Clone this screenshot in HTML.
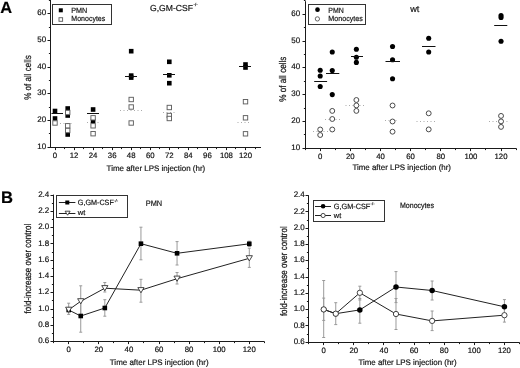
<!DOCTYPE html>
<html><head><meta charset="utf-8"><style>
html,body{margin:0;padding:0;background:#fff;width:520px;height:368px;overflow:hidden}
svg{filter:blur(0.3px);display:block;font-family:"Liberation Sans",sans-serif} text{text-rendering:geometricPrecision;stroke:#111;stroke-width:0.18px}
</style></head><body>
<svg width="520" height="368" viewBox="0 0 520 368" font-family="Liberation Sans, sans-serif">
<rect width="520" height="368" fill="#fff"/>
<text x="0.20" y="13.20" font-size="16.4" text-anchor="start" fill="#000" font-weight="bold">A</text>
<text x="1.00" y="202.80" font-size="16.6" text-anchor="start" fill="#000" font-weight="bold">B</text>
<line x1="50.50" y1="0.00" x2="50.50" y2="147.80" stroke="#1a1a1a" stroke-width="1.0"/>
<line x1="47.50" y1="147.50" x2="50.50" y2="147.50" stroke="#1a1a1a" stroke-width="1"/>
<line x1="47.50" y1="120.50" x2="50.50" y2="120.50" stroke="#1a1a1a" stroke-width="1"/>
<line x1="47.50" y1="93.50" x2="50.50" y2="93.50" stroke="#1a1a1a" stroke-width="1"/>
<line x1="47.50" y1="67.50" x2="50.50" y2="67.50" stroke="#1a1a1a" stroke-width="1"/>
<line x1="47.50" y1="40.50" x2="50.50" y2="40.50" stroke="#1a1a1a" stroke-width="1"/>
<line x1="47.50" y1="13.50" x2="50.50" y2="13.50" stroke="#1a1a1a" stroke-width="1"/>
<line x1="48.90" y1="133.50" x2="50.50" y2="133.50" stroke="#1a1a1a" stroke-width="1"/>
<line x1="48.90" y1="107.50" x2="50.50" y2="107.50" stroke="#1a1a1a" stroke-width="1"/>
<line x1="48.90" y1="80.50" x2="50.50" y2="80.50" stroke="#1a1a1a" stroke-width="1"/>
<line x1="48.90" y1="53.50" x2="50.50" y2="53.50" stroke="#1a1a1a" stroke-width="1"/>
<line x1="48.90" y1="27.50" x2="50.50" y2="27.50" stroke="#1a1a1a" stroke-width="1"/>
<line x1="48.90" y1="0.50" x2="50.50" y2="0.50" stroke="#1a1a1a" stroke-width="1"/>
<text x="46.10" y="148.90" font-size="8" text-anchor="end" fill="#111" font-weight="normal">10</text>
<text x="46.10" y="122.18" font-size="8" text-anchor="end" fill="#111" font-weight="normal">20</text>
<text x="46.10" y="95.46" font-size="8" text-anchor="end" fill="#111" font-weight="normal">30</text>
<text x="46.10" y="68.74" font-size="8" text-anchor="end" fill="#111" font-weight="normal">40</text>
<text x="46.10" y="42.02" font-size="8" text-anchor="end" fill="#111" font-weight="normal">50</text>
<text x="46.10" y="15.30" font-size="8" text-anchor="end" fill="#111" font-weight="normal">60</text>
<line x1="50.00" y1="147.50" x2="261.00" y2="147.50" stroke="#1a1a1a" stroke-width="1.0"/>
<line x1="55.50" y1="147.50" x2="55.50" y2="150.10" stroke="#1a1a1a" stroke-width="1"/>
<line x1="74.50" y1="147.50" x2="74.50" y2="150.10" stroke="#1a1a1a" stroke-width="1"/>
<line x1="93.50" y1="147.50" x2="93.50" y2="150.10" stroke="#1a1a1a" stroke-width="1"/>
<line x1="112.50" y1="147.50" x2="112.50" y2="150.10" stroke="#1a1a1a" stroke-width="1"/>
<line x1="131.50" y1="147.50" x2="131.50" y2="150.10" stroke="#1a1a1a" stroke-width="1"/>
<line x1="150.50" y1="147.50" x2="150.50" y2="150.10" stroke="#1a1a1a" stroke-width="1"/>
<line x1="169.50" y1="147.50" x2="169.50" y2="150.10" stroke="#1a1a1a" stroke-width="1"/>
<line x1="188.50" y1="147.50" x2="188.50" y2="150.10" stroke="#1a1a1a" stroke-width="1"/>
<line x1="207.50" y1="147.50" x2="207.50" y2="150.10" stroke="#1a1a1a" stroke-width="1"/>
<line x1="226.50" y1="147.50" x2="226.50" y2="150.10" stroke="#1a1a1a" stroke-width="1"/>
<line x1="245.50" y1="147.50" x2="245.50" y2="150.10" stroke="#1a1a1a" stroke-width="1"/>
<line x1="64.50" y1="147.50" x2="64.50" y2="149.10" stroke="#1a1a1a" stroke-width="1"/>
<line x1="83.50" y1="147.50" x2="83.50" y2="149.10" stroke="#1a1a1a" stroke-width="1"/>
<line x1="102.50" y1="147.50" x2="102.50" y2="149.10" stroke="#1a1a1a" stroke-width="1"/>
<line x1="121.50" y1="147.50" x2="121.50" y2="149.10" stroke="#1a1a1a" stroke-width="1"/>
<line x1="140.50" y1="147.50" x2="140.50" y2="149.10" stroke="#1a1a1a" stroke-width="1"/>
<line x1="159.50" y1="147.50" x2="159.50" y2="149.10" stroke="#1a1a1a" stroke-width="1"/>
<line x1="178.50" y1="147.50" x2="178.50" y2="149.10" stroke="#1a1a1a" stroke-width="1"/>
<line x1="197.50" y1="147.50" x2="197.50" y2="149.10" stroke="#1a1a1a" stroke-width="1"/>
<line x1="216.50" y1="147.50" x2="216.50" y2="149.10" stroke="#1a1a1a" stroke-width="1"/>
<line x1="235.50" y1="147.50" x2="235.50" y2="149.10" stroke="#1a1a1a" stroke-width="1"/>
<line x1="255.50" y1="147.50" x2="255.50" y2="149.10" stroke="#1a1a1a" stroke-width="1"/>
<text x="55.00" y="157.70" font-size="7.8" text-anchor="middle" fill="#111" font-weight="normal">0</text>
<text x="74.05" y="157.70" font-size="7.8" text-anchor="middle" fill="#111" font-weight="normal">12</text>
<text x="93.10" y="157.70" font-size="7.8" text-anchor="middle" fill="#111" font-weight="normal">24</text>
<text x="112.15" y="157.70" font-size="7.8" text-anchor="middle" fill="#111" font-weight="normal">36</text>
<text x="131.20" y="157.70" font-size="7.8" text-anchor="middle" fill="#111" font-weight="normal">48</text>
<text x="150.25" y="157.70" font-size="7.8" text-anchor="middle" fill="#111" font-weight="normal">60</text>
<text x="169.30" y="157.70" font-size="7.8" text-anchor="middle" fill="#111" font-weight="normal">72</text>
<text x="188.35" y="157.70" font-size="7.8" text-anchor="middle" fill="#111" font-weight="normal">84</text>
<text x="207.40" y="157.70" font-size="7.8" text-anchor="middle" fill="#111" font-weight="normal">96</text>
<text x="226.45" y="157.70" font-size="7.8" text-anchor="middle" fill="#111" font-weight="normal">108</text>
<text x="245.50" y="157.70" font-size="7.8" text-anchor="middle" fill="#111" font-weight="normal">120</text>
<text x="106.60" y="171.30" font-size="8" text-anchor="start" fill="#111" font-weight="normal" textLength="98.6" lengthAdjust="spacingAndGlyphs">Time after LPS injection (hr)</text>
<text transform="translate(30.90,77.50) rotate(-90) scale(0.1,0.1200)" x="0" y="0" font-size="80" text-anchor="middle" fill="#111" style="stroke-width:1.8px">% of all cells</text>
<rect x="52.5" y="4.5" width="59" height="20" fill="#fff" stroke="#333" stroke-width="1"/>
<rect x="58.80" y="8.30" width="4.0" height="4.0" fill="#000"/>
<rect x="59.00" y="17.70" width="3.6" height="3.6" fill="#fff" stroke="#606060" stroke-width="0.95"/>
<text x="71.30" y="12.80" font-size="7.6" text-anchor="start" fill="#111" font-weight="normal" textLength="16" lengthAdjust="spacingAndGlyphs">PMN</text>
<text x="71.30" y="21.30" font-size="7.6" text-anchor="start" fill="#111" font-weight="normal" textLength="34" lengthAdjust="spacingAndGlyphs">Monocytes</text>
<text x="150.00" y="11.40" font-size="8.7" text-anchor="start" fill="#111" font-weight="normal" textLength="43" lengthAdjust="spacingAndGlyphs">G,GM-CSF</text>
<text x="193.60" y="5.90" font-size="4.3" text-anchor="start" fill="#111" font-weight="normal">-/-</text>
<line x1="60.00" y1="123.50" x2="72.00" y2="123.50" stroke="#ababab" stroke-width="1" stroke-dasharray="1,2.5"/>
<line x1="87.00" y1="122.50" x2="99.00" y2="122.50" stroke="#ababab" stroke-width="1" stroke-dasharray="1,2.5"/>
<line x1="120.00" y1="110.50" x2="143.50" y2="110.50" stroke="#ababab" stroke-width="1" stroke-dasharray="1,2.5"/>
<line x1="163.00" y1="112.50" x2="175.00" y2="112.50" stroke="#ababab" stroke-width="1" stroke-dasharray="1,2.5"/>
<line x1="237.50" y1="122.50" x2="250.00" y2="122.50" stroke="#ababab" stroke-width="1" stroke-dasharray="1,2.5"/>
<rect x="52.70" y="108.70" width="4.6" height="4.6" fill="#000"/>
<rect x="52.70" y="116.20" width="4.6" height="4.6" fill="#000"/>
<line x1="51.50" y1="113.50" x2="63.00" y2="113.50" stroke="#111" stroke-width="1.0"/>
<rect x="65.40" y="106.20" width="4.6" height="4.6" fill="#000"/>
<rect x="65.40" y="113.20" width="4.6" height="4.6" fill="#000"/>
<rect x="65.40" y="132.20" width="4.6" height="4.6" fill="#000"/>
<rect x="90.80" y="107.20" width="4.6" height="4.6" fill="#000"/>
<rect x="90.80" y="118.70" width="4.6" height="4.6" fill="#000"/>
<line x1="87.00" y1="113.50" x2="99.00" y2="113.50" stroke="#111" stroke-width="1.0"/>
<rect x="128.90" y="48.90" width="4.6" height="4.6" fill="#000"/>
<rect x="128.90" y="73.30" width="4.6" height="4.6" fill="#000"/>
<rect x="128.90" y="75.30" width="4.6" height="4.6" fill="#000"/>
<line x1="125.00" y1="76.50" x2="137.00" y2="76.50" stroke="#111" stroke-width="1.0"/>
<rect x="167.00" y="59.50" width="4.6" height="4.6" fill="#000"/>
<rect x="167.00" y="73.00" width="4.6" height="4.6" fill="#000"/>
<rect x="167.00" y="80.90" width="4.6" height="4.6" fill="#000"/>
<line x1="163.00" y1="74.50" x2="175.00" y2="74.50" stroke="#111" stroke-width="1.0"/>
<rect x="243.20" y="62.20" width="4.6" height="4.6" fill="#000"/>
<rect x="243.20" y="65.20" width="4.6" height="4.6" fill="#000"/>
<line x1="239.00" y1="66.50" x2="251.00" y2="66.50" stroke="#111" stroke-width="1.0"/>
<rect x="52.80" y="120.80" width="4.4" height="4.4" fill="#fff" stroke="#606060" stroke-width="0.95"/>
<rect x="65.50" y="110.30" width="4.4" height="4.4" fill="#fff" stroke="#606060" stroke-width="0.95"/>
<rect x="65.50" y="123.60" width="4.4" height="4.4" fill="#fff" stroke="#606060" stroke-width="0.95"/>
<rect x="65.50" y="128.30" width="4.4" height="4.4" fill="#fff" stroke="#606060" stroke-width="0.95"/>
<rect x="90.90" y="115.60" width="4.4" height="4.4" fill="#fff" stroke="#606060" stroke-width="0.95"/>
<rect x="90.90" y="123.60" width="4.4" height="4.4" fill="#fff" stroke="#606060" stroke-width="0.95"/>
<rect x="90.90" y="131.50" width="4.4" height="4.4" fill="#fff" stroke="#606060" stroke-width="0.95"/>
<rect x="129.00" y="97.30" width="4.4" height="4.4" fill="#fff" stroke="#606060" stroke-width="0.95"/>
<rect x="129.00" y="104.80" width="4.4" height="4.4" fill="#fff" stroke="#606060" stroke-width="0.95"/>
<rect x="129.00" y="120.80" width="4.4" height="4.4" fill="#fff" stroke="#606060" stroke-width="0.95"/>
<rect x="167.10" y="105.30" width="4.4" height="4.4" fill="#fff" stroke="#606060" stroke-width="0.95"/>
<rect x="167.10" y="113.30" width="4.4" height="4.4" fill="#fff" stroke="#606060" stroke-width="0.95"/>
<rect x="167.10" y="116.30" width="4.4" height="4.4" fill="#fff" stroke="#606060" stroke-width="0.95"/>
<rect x="243.30" y="99.50" width="4.4" height="4.4" fill="#fff" stroke="#606060" stroke-width="0.95"/>
<rect x="243.30" y="115.60" width="4.4" height="4.4" fill="#fff" stroke="#606060" stroke-width="0.95"/>
<rect x="243.30" y="131.60" width="4.4" height="4.4" fill="#fff" stroke="#606060" stroke-width="0.95"/>
<line x1="305.50" y1="1.20" x2="305.50" y2="148.70" stroke="#1a1a1a" stroke-width="1.0"/>
<line x1="302.50" y1="148.50" x2="305.50" y2="148.50" stroke="#1a1a1a" stroke-width="1"/>
<line x1="302.50" y1="121.50" x2="305.50" y2="121.50" stroke="#1a1a1a" stroke-width="1"/>
<line x1="302.50" y1="94.50" x2="305.50" y2="94.50" stroke="#1a1a1a" stroke-width="1"/>
<line x1="302.50" y1="67.50" x2="305.50" y2="67.50" stroke="#1a1a1a" stroke-width="1"/>
<line x1="302.50" y1="41.50" x2="305.50" y2="41.50" stroke="#1a1a1a" stroke-width="1"/>
<line x1="302.50" y1="14.50" x2="305.50" y2="14.50" stroke="#1a1a1a" stroke-width="1"/>
<line x1="303.90" y1="134.50" x2="305.50" y2="134.50" stroke="#1a1a1a" stroke-width="1"/>
<line x1="303.90" y1="108.50" x2="305.50" y2="108.50" stroke="#1a1a1a" stroke-width="1"/>
<line x1="303.90" y1="81.50" x2="305.50" y2="81.50" stroke="#1a1a1a" stroke-width="1"/>
<line x1="303.90" y1="54.50" x2="305.50" y2="54.50" stroke="#1a1a1a" stroke-width="1"/>
<line x1="303.90" y1="27.50" x2="305.50" y2="27.50" stroke="#1a1a1a" stroke-width="1"/>
<line x1="303.90" y1="0.50" x2="305.50" y2="0.50" stroke="#1a1a1a" stroke-width="1"/>
<text x="300.20" y="149.80" font-size="8" text-anchor="end" fill="#111" font-weight="normal">10</text>
<text x="300.20" y="123.02" font-size="8" text-anchor="end" fill="#111" font-weight="normal">20</text>
<text x="300.20" y="96.24" font-size="8" text-anchor="end" fill="#111" font-weight="normal">30</text>
<text x="300.20" y="69.46" font-size="8" text-anchor="end" fill="#111" font-weight="normal">40</text>
<text x="300.20" y="42.68" font-size="8" text-anchor="end" fill="#111" font-weight="normal">50</text>
<text x="300.20" y="15.90" font-size="8" text-anchor="end" fill="#111" font-weight="normal">60</text>
<line x1="304.70" y1="148.50" x2="516.50" y2="148.50" stroke="#1a1a1a" stroke-width="1.0"/>
<line x1="320.50" y1="148.50" x2="320.50" y2="151.10" stroke="#1a1a1a" stroke-width="1"/>
<line x1="350.50" y1="148.50" x2="350.50" y2="151.10" stroke="#1a1a1a" stroke-width="1"/>
<line x1="380.50" y1="148.50" x2="380.50" y2="151.10" stroke="#1a1a1a" stroke-width="1"/>
<line x1="410.50" y1="148.50" x2="410.50" y2="151.10" stroke="#1a1a1a" stroke-width="1"/>
<line x1="440.50" y1="148.50" x2="440.50" y2="151.10" stroke="#1a1a1a" stroke-width="1"/>
<line x1="470.50" y1="148.50" x2="470.50" y2="151.10" stroke="#1a1a1a" stroke-width="1"/>
<line x1="501.50" y1="148.50" x2="501.50" y2="151.10" stroke="#1a1a1a" stroke-width="1"/>
<line x1="305.50" y1="148.50" x2="305.50" y2="150.10" stroke="#1a1a1a" stroke-width="1"/>
<line x1="335.50" y1="148.50" x2="335.50" y2="150.10" stroke="#1a1a1a" stroke-width="1"/>
<line x1="365.50" y1="148.50" x2="365.50" y2="150.10" stroke="#1a1a1a" stroke-width="1"/>
<line x1="395.50" y1="148.50" x2="395.50" y2="150.10" stroke="#1a1a1a" stroke-width="1"/>
<line x1="425.50" y1="148.50" x2="425.50" y2="150.10" stroke="#1a1a1a" stroke-width="1"/>
<line x1="455.50" y1="148.50" x2="455.50" y2="150.10" stroke="#1a1a1a" stroke-width="1"/>
<line x1="485.50" y1="148.50" x2="485.50" y2="150.10" stroke="#1a1a1a" stroke-width="1"/>
<line x1="516.50" y1="148.50" x2="516.50" y2="150.10" stroke="#1a1a1a" stroke-width="1"/>
<text x="320.20" y="158.60" font-size="7.8" text-anchor="middle" fill="#111" font-weight="normal">0</text>
<text x="350.34" y="158.60" font-size="7.8" text-anchor="middle" fill="#111" font-weight="normal">20</text>
<text x="380.48" y="158.60" font-size="7.8" text-anchor="middle" fill="#111" font-weight="normal">40</text>
<text x="410.62" y="158.60" font-size="7.8" text-anchor="middle" fill="#111" font-weight="normal">60</text>
<text x="440.76" y="158.60" font-size="7.8" text-anchor="middle" fill="#111" font-weight="normal">80</text>
<text x="470.90" y="158.60" font-size="7.8" text-anchor="middle" fill="#111" font-weight="normal">100</text>
<text x="501.04" y="158.60" font-size="7.8" text-anchor="middle" fill="#111" font-weight="normal">120</text>
<text x="352.40" y="169.60" font-size="8" text-anchor="start" fill="#111" font-weight="normal" textLength="98.6" lengthAdjust="spacingAndGlyphs">Time after LPS injection (hr)</text>
<text transform="translate(286.10,79.20) rotate(-90) scale(0.1,0.1200)" x="0" y="0" font-size="81.0" text-anchor="middle" fill="#111" style="stroke-width:1.8px" textLength="452.0" lengthAdjust="spacingAndGlyphs">% of all cells</text>
<rect x="308.5" y="4.5" width="57" height="20" fill="#fff" stroke="#333" stroke-width="1"/>
<circle cx="317.50" cy="9.70" r="2.35" fill="#000"/>
<circle cx="317.40" cy="18.90" r="2.15" fill="#fff" stroke="#555" stroke-width="0.9"/>
<text x="328.30" y="12.80" font-size="7.6" text-anchor="start" fill="#111" font-weight="normal" textLength="15.5" lengthAdjust="spacingAndGlyphs">PMN</text>
<text x="328.30" y="21.30" font-size="7.6" text-anchor="start" fill="#111" font-weight="normal" textLength="34.5" lengthAdjust="spacingAndGlyphs">Monocytes</text>
<text x="410.20" y="12.40" font-size="9.2" text-anchor="start" fill="#111" font-weight="normal">wt</text>
<line x1="313.00" y1="131.50" x2="328.00" y2="131.50" stroke="#ababab" stroke-width="1" stroke-dasharray="1,2.5"/>
<circle cx="320.20" cy="129.50" r="2.45" fill="#fff" stroke="#4a4a4a" stroke-width="1.0"/>
<circle cx="320.20" cy="135.00" r="2.45" fill="#fff" stroke="#4a4a4a" stroke-width="1.0"/>
<line x1="325.00" y1="119.50" x2="340.00" y2="119.50" stroke="#ababab" stroke-width="1" stroke-dasharray="1,2.5"/>
<circle cx="332.26" cy="110.90" r="2.45" fill="#fff" stroke="#4a4a4a" stroke-width="1.0"/>
<circle cx="332.26" cy="119.00" r="2.45" fill="#fff" stroke="#4a4a4a" stroke-width="1.0"/>
<circle cx="332.26" cy="129.50" r="2.45" fill="#fff" stroke="#4a4a4a" stroke-width="1.0"/>
<line x1="345.50" y1="105.50" x2="366.00" y2="105.50" stroke="#ababab" stroke-width="1" stroke-dasharray="1,2.5"/>
<circle cx="356.37" cy="100.00" r="2.45" fill="#fff" stroke="#4a4a4a" stroke-width="1.0"/>
<circle cx="356.37" cy="105.40" r="2.45" fill="#fff" stroke="#4a4a4a" stroke-width="1.0"/>
<circle cx="356.37" cy="110.90" r="2.45" fill="#fff" stroke="#4a4a4a" stroke-width="1.0"/>
<line x1="385.00" y1="120.50" x2="397.40" y2="120.50" stroke="#ababab" stroke-width="1" stroke-dasharray="1,2.5"/>
<circle cx="392.54" cy="105.50" r="2.45" fill="#fff" stroke="#4a4a4a" stroke-width="1.0"/>
<circle cx="392.54" cy="121.50" r="2.45" fill="#fff" stroke="#4a4a4a" stroke-width="1.0"/>
<circle cx="392.54" cy="131.70" r="2.45" fill="#fff" stroke="#4a4a4a" stroke-width="1.0"/>
<line x1="416.50" y1="121.50" x2="436.80" y2="121.50" stroke="#ababab" stroke-width="1" stroke-dasharray="1,2.5"/>
<circle cx="428.70" cy="113.30" r="2.45" fill="#fff" stroke="#4a4a4a" stroke-width="1.0"/>
<circle cx="428.70" cy="129.40" r="2.45" fill="#fff" stroke="#4a4a4a" stroke-width="1.0"/>
<line x1="489.00" y1="121.50" x2="507.40" y2="121.50" stroke="#ababab" stroke-width="1" stroke-dasharray="1,2.5"/>
<circle cx="501.04" cy="115.90" r="2.45" fill="#fff" stroke="#4a4a4a" stroke-width="1.0"/>
<circle cx="501.04" cy="121.40" r="2.45" fill="#fff" stroke="#4a4a4a" stroke-width="1.0"/>
<circle cx="501.04" cy="126.90" r="2.45" fill="#fff" stroke="#4a4a4a" stroke-width="1.0"/>
<circle cx="320.20" cy="70.20" r="2.55" fill="#000"/>
<circle cx="320.20" cy="76.00" r="2.55" fill="#000"/>
<circle cx="320.20" cy="86.50" r="2.55" fill="#000"/>
<line x1="314.20" y1="81.50" x2="327.10" y2="81.50" stroke="#111" stroke-width="1.0"/>
<circle cx="332.26" cy="52.00" r="2.55" fill="#000"/>
<circle cx="332.26" cy="70.60" r="2.55" fill="#000"/>
<circle cx="332.26" cy="94.60" r="2.55" fill="#000"/>
<line x1="326.00" y1="73.50" x2="339.30" y2="73.50" stroke="#111" stroke-width="1.0"/>
<circle cx="356.37" cy="49.30" r="2.55" fill="#000"/>
<circle cx="356.37" cy="57.30" r="2.55" fill="#000"/>
<circle cx="356.37" cy="62.40" r="2.55" fill="#000"/>
<line x1="351.00" y1="56.50" x2="363.00" y2="56.50" stroke="#111" stroke-width="1.0"/>
<circle cx="392.54" cy="46.50" r="2.55" fill="#000"/>
<circle cx="392.54" cy="59.80" r="2.55" fill="#000"/>
<circle cx="392.54" cy="78.80" r="2.55" fill="#000"/>
<line x1="385.50" y1="61.50" x2="400.00" y2="61.50" stroke="#111" stroke-width="1.0"/>
<circle cx="428.70" cy="38.30" r="2.55" fill="#000"/>
<circle cx="428.70" cy="52.00" r="2.55" fill="#000"/>
<line x1="422.00" y1="46.50" x2="435.50" y2="46.50" stroke="#111" stroke-width="1.0"/>
<circle cx="501.04" cy="15.50" r="2.55" fill="#000"/>
<circle cx="501.04" cy="17.50" r="2.55" fill="#000"/>
<circle cx="501.04" cy="41.30" r="2.55" fill="#000"/>
<line x1="494.20" y1="25.50" x2="507.30" y2="25.50" stroke="#111" stroke-width="1.0"/>
<line x1="53.50" y1="194.60" x2="53.50" y2="342.10" stroke="#1a1a1a" stroke-width="1.0"/>
<line x1="50.50" y1="341.50" x2="53.50" y2="341.50" stroke="#1a1a1a" stroke-width="1"/>
<line x1="50.50" y1="325.50" x2="53.50" y2="325.50" stroke="#1a1a1a" stroke-width="1"/>
<line x1="50.50" y1="309.50" x2="53.50" y2="309.50" stroke="#1a1a1a" stroke-width="1"/>
<line x1="50.50" y1="292.50" x2="53.50" y2="292.50" stroke="#1a1a1a" stroke-width="1"/>
<line x1="50.50" y1="276.50" x2="53.50" y2="276.50" stroke="#1a1a1a" stroke-width="1"/>
<line x1="50.50" y1="260.50" x2="53.50" y2="260.50" stroke="#1a1a1a" stroke-width="1"/>
<line x1="50.50" y1="243.50" x2="53.50" y2="243.50" stroke="#1a1a1a" stroke-width="1"/>
<line x1="50.50" y1="227.50" x2="53.50" y2="227.50" stroke="#1a1a1a" stroke-width="1"/>
<line x1="50.50" y1="211.50" x2="53.50" y2="211.50" stroke="#1a1a1a" stroke-width="1"/>
<line x1="50.50" y1="195.50" x2="53.50" y2="195.50" stroke="#1a1a1a" stroke-width="1"/>
<line x1="51.90" y1="333.50" x2="53.50" y2="333.50" stroke="#1a1a1a" stroke-width="1"/>
<line x1="51.90" y1="317.50" x2="53.50" y2="317.50" stroke="#1a1a1a" stroke-width="1"/>
<line x1="51.90" y1="300.50" x2="53.50" y2="300.50" stroke="#1a1a1a" stroke-width="1"/>
<line x1="51.90" y1="284.50" x2="53.50" y2="284.50" stroke="#1a1a1a" stroke-width="1"/>
<line x1="51.90" y1="268.50" x2="53.50" y2="268.50" stroke="#1a1a1a" stroke-width="1"/>
<line x1="51.90" y1="252.50" x2="53.50" y2="252.50" stroke="#1a1a1a" stroke-width="1"/>
<line x1="51.90" y1="235.50" x2="53.50" y2="235.50" stroke="#1a1a1a" stroke-width="1"/>
<line x1="51.90" y1="219.50" x2="53.50" y2="219.50" stroke="#1a1a1a" stroke-width="1"/>
<line x1="51.90" y1="203.50" x2="53.50" y2="203.50" stroke="#1a1a1a" stroke-width="1"/>
<text x="49.30" y="343.20" font-size="8" text-anchor="end" fill="#111" font-weight="normal">0.6</text>
<text x="49.30" y="326.92" font-size="8" text-anchor="end" fill="#111" font-weight="normal">0.8</text>
<text x="49.30" y="310.64" font-size="8" text-anchor="end" fill="#111" font-weight="normal">1.0</text>
<text x="49.30" y="294.36" font-size="8" text-anchor="end" fill="#111" font-weight="normal">1.2</text>
<text x="49.30" y="278.08" font-size="8" text-anchor="end" fill="#111" font-weight="normal">1.4</text>
<text x="49.30" y="261.80" font-size="8" text-anchor="end" fill="#111" font-weight="normal">1.6</text>
<text x="49.30" y="245.52" font-size="8" text-anchor="end" fill="#111" font-weight="normal">1.8</text>
<text x="49.30" y="229.24" font-size="8" text-anchor="end" fill="#111" font-weight="normal">2.0</text>
<text x="49.30" y="212.96" font-size="8" text-anchor="end" fill="#111" font-weight="normal">2.2</text>
<text x="49.30" y="196.68" font-size="8" text-anchor="end" fill="#111" font-weight="normal">2.4</text>
<line x1="53.30" y1="341.50" x2="264.40" y2="341.50" stroke="#1a1a1a" stroke-width="1.0"/>
<line x1="68.50" y1="341.50" x2="68.50" y2="344.10" stroke="#1a1a1a" stroke-width="1"/>
<line x1="98.50" y1="341.50" x2="98.50" y2="344.10" stroke="#1a1a1a" stroke-width="1"/>
<line x1="128.50" y1="341.50" x2="128.50" y2="344.10" stroke="#1a1a1a" stroke-width="1"/>
<line x1="159.50" y1="341.50" x2="159.50" y2="344.10" stroke="#1a1a1a" stroke-width="1"/>
<line x1="189.50" y1="341.50" x2="189.50" y2="344.10" stroke="#1a1a1a" stroke-width="1"/>
<line x1="219.50" y1="341.50" x2="219.50" y2="344.10" stroke="#1a1a1a" stroke-width="1"/>
<line x1="249.50" y1="341.50" x2="249.50" y2="344.10" stroke="#1a1a1a" stroke-width="1"/>
<line x1="53.50" y1="341.50" x2="53.50" y2="343.10" stroke="#1a1a1a" stroke-width="1"/>
<line x1="83.50" y1="341.50" x2="83.50" y2="343.10" stroke="#1a1a1a" stroke-width="1"/>
<line x1="113.50" y1="341.50" x2="113.50" y2="343.10" stroke="#1a1a1a" stroke-width="1"/>
<line x1="143.50" y1="341.50" x2="143.50" y2="343.10" stroke="#1a1a1a" stroke-width="1"/>
<line x1="174.50" y1="341.50" x2="174.50" y2="343.10" stroke="#1a1a1a" stroke-width="1"/>
<line x1="204.50" y1="341.50" x2="204.50" y2="343.10" stroke="#1a1a1a" stroke-width="1"/>
<line x1="234.50" y1="341.50" x2="234.50" y2="343.10" stroke="#1a1a1a" stroke-width="1"/>
<line x1="264.50" y1="341.50" x2="264.50" y2="343.10" stroke="#1a1a1a" stroke-width="1"/>
<text x="68.70" y="352.20" font-size="7.8" text-anchor="middle" fill="#111" font-weight="normal">0</text>
<text x="98.80" y="352.20" font-size="7.8" text-anchor="middle" fill="#111" font-weight="normal">20</text>
<text x="128.90" y="352.20" font-size="7.8" text-anchor="middle" fill="#111" font-weight="normal">40</text>
<text x="159.00" y="352.20" font-size="7.8" text-anchor="middle" fill="#111" font-weight="normal">60</text>
<text x="189.10" y="352.20" font-size="7.8" text-anchor="middle" fill="#111" font-weight="normal">80</text>
<text x="219.20" y="352.20" font-size="7.8" text-anchor="middle" fill="#111" font-weight="normal">100</text>
<text x="249.30" y="352.20" font-size="7.8" text-anchor="middle" fill="#111" font-weight="normal">120</text>
<text x="109.80" y="365.00" font-size="8" text-anchor="start" fill="#111" font-weight="normal" textLength="98.8" lengthAdjust="spacingAndGlyphs">Time after LPS injection (hr)</text>
<text transform="translate(31.00,268.60) rotate(-90) scale(0.1,0.1200)" x="0" y="0" font-size="80" text-anchor="middle" fill="#111" style="stroke-width:1.8px">fold-increase over control</text>
<rect x="56.5" y="195.5" width="71" height="22" fill="#fff" stroke="#333" stroke-width="1"/>
<line x1="58.90" y1="202.50" x2="75.40" y2="202.50" stroke="#222" stroke-width="1"/>
<rect x="65.30" y="200.50" width="4.0" height="4.0" fill="#000"/>
<line x1="58.90" y1="213.50" x2="75.40" y2="213.50" stroke="#222" stroke-width="1"/>
<path d="M65.10,211.20 L70.10,211.20 L67.60,215.20 Z" fill="#fff" stroke="#333" stroke-width="0.9" stroke-linejoin="miter"/>
<text x="77.80" y="205.00" font-size="7.6" text-anchor="start" fill="#111" font-weight="normal" textLength="36" lengthAdjust="spacingAndGlyphs">G,GM-CSF</text>
<text x="114.20" y="201.60" font-size="4.2" text-anchor="start" fill="#111" font-weight="normal">-/-</text>
<text x="77.80" y="215.30" font-size="7.6" text-anchor="start" fill="#111" font-weight="normal" textLength="7.6" lengthAdjust="spacingAndGlyphs">wt</text>
<text x="145.80" y="206.10" font-size="8" text-anchor="start" fill="#111" font-weight="normal" textLength="16.4" lengthAdjust="spacingAndGlyphs">PMN</text>
<line x1="68.70" y1="303.20" x2="68.70" y2="314.40" stroke="#9a9a9a" stroke-width="1"/>
<line x1="67.20" y1="303.20" x2="70.20" y2="303.20" stroke="#9a9a9a" stroke-width="1"/>
<line x1="67.20" y1="314.40" x2="70.20" y2="314.40" stroke="#9a9a9a" stroke-width="1"/>
<line x1="80.74" y1="285.80" x2="80.74" y2="315.50" stroke="#9a9a9a" stroke-width="1"/>
<line x1="79.24" y1="285.80" x2="82.24" y2="285.80" stroke="#9a9a9a" stroke-width="1"/>
<line x1="79.24" y1="315.50" x2="82.24" y2="315.50" stroke="#9a9a9a" stroke-width="1"/>
<line x1="80.74" y1="300.50" x2="80.74" y2="332.20" stroke="#9a9a9a" stroke-width="1"/>
<line x1="79.24" y1="300.50" x2="82.24" y2="300.50" stroke="#9a9a9a" stroke-width="1"/>
<line x1="79.24" y1="332.20" x2="82.24" y2="332.20" stroke="#9a9a9a" stroke-width="1"/>
<line x1="104.82" y1="282.50" x2="104.82" y2="292.00" stroke="#9a9a9a" stroke-width="1"/>
<line x1="103.32" y1="282.50" x2="106.32" y2="282.50" stroke="#9a9a9a" stroke-width="1"/>
<line x1="103.32" y1="292.00" x2="106.32" y2="292.00" stroke="#9a9a9a" stroke-width="1"/>
<line x1="104.82" y1="299.70" x2="104.82" y2="316.20" stroke="#9a9a9a" stroke-width="1"/>
<line x1="103.32" y1="299.70" x2="106.32" y2="299.70" stroke="#9a9a9a" stroke-width="1"/>
<line x1="103.32" y1="316.20" x2="106.32" y2="316.20" stroke="#9a9a9a" stroke-width="1"/>
<line x1="140.94" y1="227.20" x2="140.94" y2="259.80" stroke="#9a9a9a" stroke-width="1"/>
<line x1="139.44" y1="227.20" x2="142.44" y2="227.20" stroke="#9a9a9a" stroke-width="1"/>
<line x1="139.44" y1="259.80" x2="142.44" y2="259.80" stroke="#9a9a9a" stroke-width="1"/>
<line x1="140.94" y1="279.30" x2="140.94" y2="302.20" stroke="#9a9a9a" stroke-width="1"/>
<line x1="139.44" y1="279.30" x2="142.44" y2="279.30" stroke="#9a9a9a" stroke-width="1"/>
<line x1="139.44" y1="302.20" x2="142.44" y2="302.20" stroke="#9a9a9a" stroke-width="1"/>
<line x1="177.06" y1="241.60" x2="177.06" y2="265.00" stroke="#9a9a9a" stroke-width="1"/>
<line x1="175.56" y1="241.60" x2="178.56" y2="241.60" stroke="#9a9a9a" stroke-width="1"/>
<line x1="175.56" y1="265.00" x2="178.56" y2="265.00" stroke="#9a9a9a" stroke-width="1"/>
<line x1="177.06" y1="272.50" x2="177.06" y2="284.00" stroke="#9a9a9a" stroke-width="1"/>
<line x1="175.56" y1="272.50" x2="178.56" y2="272.50" stroke="#9a9a9a" stroke-width="1"/>
<line x1="175.56" y1="284.00" x2="178.56" y2="284.00" stroke="#9a9a9a" stroke-width="1"/>
<line x1="249.30" y1="241.20" x2="249.30" y2="246.50" stroke="#9a9a9a" stroke-width="1"/>
<line x1="247.80" y1="241.20" x2="250.80" y2="241.20" stroke="#9a9a9a" stroke-width="1"/>
<line x1="247.80" y1="246.50" x2="250.80" y2="246.50" stroke="#9a9a9a" stroke-width="1"/>
<line x1="249.30" y1="248.20" x2="249.30" y2="267.40" stroke="#9a9a9a" stroke-width="1"/>
<line x1="247.80" y1="248.20" x2="250.80" y2="248.20" stroke="#9a9a9a" stroke-width="1"/>
<line x1="247.80" y1="267.40" x2="250.80" y2="267.40" stroke="#9a9a9a" stroke-width="1"/>
<polyline points="68.70,310.00 80.74,316.00 104.82,308.00 140.94,243.70 177.06,253.30 249.30,243.80" fill="none" stroke="#222" stroke-width="1.0"/>
<polyline points="68.70,309.80 80.74,301.30 104.82,288.20 140.94,290.20 177.06,278.70 249.30,258.30" fill="none" stroke="#222" stroke-width="1.0"/>
<rect x="66.40" y="307.70" width="4.6" height="4.6" fill="#000"/>
<rect x="78.44" y="313.70" width="4.6" height="4.6" fill="#000"/>
<rect x="102.52" y="305.70" width="4.6" height="4.6" fill="#000"/>
<rect x="138.64" y="241.40" width="4.6" height="4.6" fill="#000"/>
<rect x="174.76" y="251.00" width="4.6" height="4.6" fill="#000"/>
<rect x="247.00" y="241.50" width="4.6" height="4.6" fill="#000"/>
<path d="M65.60,307.20 L71.80,307.20 L68.70,312.40 Z" fill="#fff" stroke="#333" stroke-width="0.9" stroke-linejoin="miter"/>
<path d="M77.64,298.70 L83.84,298.70 L80.74,303.90 Z" fill="#fff" stroke="#333" stroke-width="0.9" stroke-linejoin="miter"/>
<path d="M101.72,285.60 L107.92,285.60 L104.82,290.80 Z" fill="#fff" stroke="#333" stroke-width="0.9" stroke-linejoin="miter"/>
<path d="M137.84,287.60 L144.04,287.60 L140.94,292.80 Z" fill="#fff" stroke="#333" stroke-width="0.9" stroke-linejoin="miter"/>
<path d="M173.96,276.10 L180.16,276.10 L177.06,281.30 Z" fill="#fff" stroke="#333" stroke-width="0.9" stroke-linejoin="miter"/>
<path d="M246.20,255.70 L252.40,255.70 L249.30,260.90 Z" fill="#fff" stroke="#333" stroke-width="0.9" stroke-linejoin="miter"/>
<line x1="308.50" y1="195.20" x2="308.50" y2="342.70" stroke="#1a1a1a" stroke-width="1.0"/>
<line x1="305.50" y1="342.50" x2="308.50" y2="342.50" stroke="#1a1a1a" stroke-width="1"/>
<line x1="305.50" y1="325.50" x2="308.50" y2="325.50" stroke="#1a1a1a" stroke-width="1"/>
<line x1="305.50" y1="309.50" x2="308.50" y2="309.50" stroke="#1a1a1a" stroke-width="1"/>
<line x1="305.50" y1="293.50" x2="308.50" y2="293.50" stroke="#1a1a1a" stroke-width="1"/>
<line x1="305.50" y1="277.50" x2="308.50" y2="277.50" stroke="#1a1a1a" stroke-width="1"/>
<line x1="305.50" y1="260.50" x2="308.50" y2="260.50" stroke="#1a1a1a" stroke-width="1"/>
<line x1="305.50" y1="244.50" x2="308.50" y2="244.50" stroke="#1a1a1a" stroke-width="1"/>
<line x1="305.50" y1="228.50" x2="308.50" y2="228.50" stroke="#1a1a1a" stroke-width="1"/>
<line x1="305.50" y1="211.50" x2="308.50" y2="211.50" stroke="#1a1a1a" stroke-width="1"/>
<line x1="305.50" y1="195.50" x2="308.50" y2="195.50" stroke="#1a1a1a" stroke-width="1"/>
<line x1="306.90" y1="334.50" x2="308.50" y2="334.50" stroke="#1a1a1a" stroke-width="1"/>
<line x1="306.90" y1="317.50" x2="308.50" y2="317.50" stroke="#1a1a1a" stroke-width="1"/>
<line x1="306.90" y1="301.50" x2="308.50" y2="301.50" stroke="#1a1a1a" stroke-width="1"/>
<line x1="306.90" y1="285.50" x2="308.50" y2="285.50" stroke="#1a1a1a" stroke-width="1"/>
<line x1="306.90" y1="268.50" x2="308.50" y2="268.50" stroke="#1a1a1a" stroke-width="1"/>
<line x1="306.90" y1="252.50" x2="308.50" y2="252.50" stroke="#1a1a1a" stroke-width="1"/>
<line x1="306.90" y1="236.50" x2="308.50" y2="236.50" stroke="#1a1a1a" stroke-width="1"/>
<line x1="306.90" y1="220.50" x2="308.50" y2="220.50" stroke="#1a1a1a" stroke-width="1"/>
<line x1="306.90" y1="203.50" x2="308.50" y2="203.50" stroke="#1a1a1a" stroke-width="1"/>
<text x="304.80" y="343.80" font-size="8" text-anchor="end" fill="#111" font-weight="normal">0.6</text>
<text x="304.80" y="327.52" font-size="8" text-anchor="end" fill="#111" font-weight="normal">0.8</text>
<text x="304.80" y="311.24" font-size="8" text-anchor="end" fill="#111" font-weight="normal">1.0</text>
<text x="304.80" y="294.96" font-size="8" text-anchor="end" fill="#111" font-weight="normal">1.2</text>
<text x="304.80" y="278.68" font-size="8" text-anchor="end" fill="#111" font-weight="normal">1.4</text>
<text x="304.80" y="262.40" font-size="8" text-anchor="end" fill="#111" font-weight="normal">1.6</text>
<text x="304.80" y="246.12" font-size="8" text-anchor="end" fill="#111" font-weight="normal">1.8</text>
<text x="304.80" y="229.84" font-size="8" text-anchor="end" fill="#111" font-weight="normal">2.0</text>
<text x="304.80" y="213.56" font-size="8" text-anchor="end" fill="#111" font-weight="normal">2.2</text>
<text x="304.80" y="197.28" font-size="8" text-anchor="end" fill="#111" font-weight="normal">2.4</text>
<line x1="307.90" y1="342.50" x2="519.60" y2="342.50" stroke="#1a1a1a" stroke-width="1.0"/>
<line x1="323.50" y1="342.50" x2="323.50" y2="345.10" stroke="#1a1a1a" stroke-width="1"/>
<line x1="353.50" y1="342.50" x2="353.50" y2="345.10" stroke="#1a1a1a" stroke-width="1"/>
<line x1="383.50" y1="342.50" x2="383.50" y2="345.10" stroke="#1a1a1a" stroke-width="1"/>
<line x1="414.50" y1="342.50" x2="414.50" y2="345.10" stroke="#1a1a1a" stroke-width="1"/>
<line x1="444.50" y1="342.50" x2="444.50" y2="345.10" stroke="#1a1a1a" stroke-width="1"/>
<line x1="474.50" y1="342.50" x2="474.50" y2="345.10" stroke="#1a1a1a" stroke-width="1"/>
<line x1="504.50" y1="342.50" x2="504.50" y2="345.10" stroke="#1a1a1a" stroke-width="1"/>
<line x1="308.50" y1="342.50" x2="308.50" y2="344.10" stroke="#1a1a1a" stroke-width="1"/>
<line x1="338.50" y1="342.50" x2="338.50" y2="344.10" stroke="#1a1a1a" stroke-width="1"/>
<line x1="368.50" y1="342.50" x2="368.50" y2="344.10" stroke="#1a1a1a" stroke-width="1"/>
<line x1="399.50" y1="342.50" x2="399.50" y2="344.10" stroke="#1a1a1a" stroke-width="1"/>
<line x1="429.50" y1="342.50" x2="429.50" y2="344.10" stroke="#1a1a1a" stroke-width="1"/>
<line x1="459.50" y1="342.50" x2="459.50" y2="344.10" stroke="#1a1a1a" stroke-width="1"/>
<line x1="489.50" y1="342.50" x2="489.50" y2="344.10" stroke="#1a1a1a" stroke-width="1"/>
<line x1="519.50" y1="342.50" x2="519.50" y2="344.10" stroke="#1a1a1a" stroke-width="1"/>
<text x="323.70" y="352.60" font-size="7.8" text-anchor="middle" fill="#111" font-weight="normal">0</text>
<text x="353.82" y="352.60" font-size="7.8" text-anchor="middle" fill="#111" font-weight="normal">20</text>
<text x="383.94" y="352.60" font-size="7.8" text-anchor="middle" fill="#111" font-weight="normal">40</text>
<text x="414.06" y="352.60" font-size="7.8" text-anchor="middle" fill="#111" font-weight="normal">60</text>
<text x="444.18" y="352.60" font-size="7.8" text-anchor="middle" fill="#111" font-weight="normal">80</text>
<text x="474.30" y="352.60" font-size="7.8" text-anchor="middle" fill="#111" font-weight="normal">100</text>
<text x="504.42" y="352.60" font-size="7.8" text-anchor="middle" fill="#111" font-weight="normal">120</text>
<text x="358.40" y="365.00" font-size="8" text-anchor="start" fill="#111" font-weight="normal" textLength="98.2" lengthAdjust="spacingAndGlyphs">Time after LPS injection (hr)</text>
<text transform="translate(286.50,271.20) rotate(-90) scale(0.1,0.1200)" x="0" y="0" font-size="80" text-anchor="middle" fill="#111" style="stroke-width:1.8px">fold-increase over control</text>
<rect x="313.5" y="200.5" width="71" height="21" fill="#fff" stroke="#333" stroke-width="1"/>
<line x1="315.00" y1="206.50" x2="331.00" y2="206.50" stroke="#222" stroke-width="1"/>
<circle cx="323.10" cy="206.30" r="2.3" fill="#000"/>
<line x1="315.00" y1="215.50" x2="331.00" y2="215.50" stroke="#222" stroke-width="1"/>
<circle cx="323.10" cy="215.50" r="2.1" fill="#fff" stroke="#333" stroke-width="0.9"/>
<text x="333.80" y="209.30" font-size="7.6" text-anchor="start" fill="#111" font-weight="normal" textLength="36.5" lengthAdjust="spacingAndGlyphs">G,GM-CSF</text>
<text x="370.60" y="205.20" font-size="4.2" text-anchor="start" fill="#111" font-weight="normal">-/-</text>
<text x="333.80" y="218.00" font-size="7.6" text-anchor="start" fill="#111" font-weight="normal" textLength="7.4" lengthAdjust="spacingAndGlyphs">wt</text>
<text x="400.00" y="208.40" font-size="7.8" text-anchor="start" fill="#111" font-weight="normal" textLength="34" lengthAdjust="spacingAndGlyphs">Monocytes</text>
<line x1="323.70" y1="280.50" x2="323.70" y2="337.50" stroke="#9a9a9a" stroke-width="1"/>
<line x1="322.20" y1="280.50" x2="325.20" y2="280.50" stroke="#9a9a9a" stroke-width="1"/>
<line x1="322.20" y1="337.50" x2="325.20" y2="337.50" stroke="#9a9a9a" stroke-width="1"/>
<line x1="323.70" y1="298.10" x2="323.70" y2="320.40" stroke="#9a9a9a" stroke-width="1"/>
<line x1="322.20" y1="298.10" x2="325.20" y2="298.10" stroke="#9a9a9a" stroke-width="1"/>
<line x1="322.20" y1="320.40" x2="325.20" y2="320.40" stroke="#9a9a9a" stroke-width="1"/>
<line x1="335.75" y1="302.70" x2="335.75" y2="324.60" stroke="#9a9a9a" stroke-width="1"/>
<line x1="334.25" y1="302.70" x2="337.25" y2="302.70" stroke="#9a9a9a" stroke-width="1"/>
<line x1="334.25" y1="324.60" x2="337.25" y2="324.60" stroke="#9a9a9a" stroke-width="1"/>
<line x1="359.84" y1="286.20" x2="359.84" y2="300.00" stroke="#9a9a9a" stroke-width="1"/>
<line x1="358.34" y1="286.20" x2="361.34" y2="286.20" stroke="#9a9a9a" stroke-width="1"/>
<line x1="358.34" y1="300.00" x2="361.34" y2="300.00" stroke="#9a9a9a" stroke-width="1"/>
<line x1="359.84" y1="298.50" x2="359.84" y2="323.20" stroke="#9a9a9a" stroke-width="1"/>
<line x1="358.34" y1="298.50" x2="361.34" y2="298.50" stroke="#9a9a9a" stroke-width="1"/>
<line x1="358.34" y1="323.20" x2="361.34" y2="323.20" stroke="#9a9a9a" stroke-width="1"/>
<line x1="395.99" y1="271.60" x2="395.99" y2="302.60" stroke="#9a9a9a" stroke-width="1"/>
<line x1="394.49" y1="271.60" x2="397.49" y2="271.60" stroke="#9a9a9a" stroke-width="1"/>
<line x1="394.49" y1="302.60" x2="397.49" y2="302.60" stroke="#9a9a9a" stroke-width="1"/>
<line x1="395.99" y1="298.50" x2="395.99" y2="329.50" stroke="#9a9a9a" stroke-width="1"/>
<line x1="394.49" y1="298.50" x2="397.49" y2="298.50" stroke="#9a9a9a" stroke-width="1"/>
<line x1="394.49" y1="329.50" x2="397.49" y2="329.50" stroke="#9a9a9a" stroke-width="1"/>
<line x1="432.13" y1="281.00" x2="432.13" y2="300.00" stroke="#9a9a9a" stroke-width="1"/>
<line x1="430.63" y1="281.00" x2="433.63" y2="281.00" stroke="#9a9a9a" stroke-width="1"/>
<line x1="430.63" y1="300.00" x2="433.63" y2="300.00" stroke="#9a9a9a" stroke-width="1"/>
<line x1="432.13" y1="311.00" x2="432.13" y2="330.60" stroke="#9a9a9a" stroke-width="1"/>
<line x1="430.63" y1="311.00" x2="433.63" y2="311.00" stroke="#9a9a9a" stroke-width="1"/>
<line x1="430.63" y1="330.60" x2="433.63" y2="330.60" stroke="#9a9a9a" stroke-width="1"/>
<line x1="504.42" y1="299.60" x2="504.42" y2="314.00" stroke="#9a9a9a" stroke-width="1"/>
<line x1="502.92" y1="299.60" x2="505.92" y2="299.60" stroke="#9a9a9a" stroke-width="1"/>
<line x1="502.92" y1="314.00" x2="505.92" y2="314.00" stroke="#9a9a9a" stroke-width="1"/>
<line x1="504.42" y1="307.00" x2="504.42" y2="322.10" stroke="#9a9a9a" stroke-width="1"/>
<line x1="502.92" y1="307.00" x2="505.92" y2="307.00" stroke="#9a9a9a" stroke-width="1"/>
<line x1="502.92" y1="322.10" x2="505.92" y2="322.10" stroke="#9a9a9a" stroke-width="1"/>
<polyline points="323.70,309.40 335.75,313.70 359.84,309.90 395.99,287.00 432.13,290.50 504.42,306.80" fill="none" stroke="#222" stroke-width="1.0"/>
<polyline points="323.70,309.40 335.75,313.70 359.84,292.80 395.99,314.00 432.13,320.90 504.42,315.20" fill="none" stroke="#222" stroke-width="1.0"/>
<circle cx="323.70" cy="309.40" r="2.75" fill="#000"/>
<circle cx="335.75" cy="313.70" r="2.75" fill="#000"/>
<circle cx="359.84" cy="309.90" r="2.75" fill="#000"/>
<circle cx="395.99" cy="287.00" r="2.75" fill="#000"/>
<circle cx="432.13" cy="290.50" r="2.75" fill="#000"/>
<circle cx="504.42" cy="306.80" r="2.75" fill="#000"/>
<circle cx="323.70" cy="309.40" r="2.65" fill="#fff" stroke="#333" stroke-width="0.9"/>
<circle cx="335.75" cy="313.70" r="2.65" fill="#fff" stroke="#333" stroke-width="0.9"/>
<circle cx="359.84" cy="292.80" r="2.65" fill="#fff" stroke="#333" stroke-width="0.9"/>
<circle cx="395.99" cy="314.00" r="2.65" fill="#fff" stroke="#333" stroke-width="0.9"/>
<circle cx="432.13" cy="320.90" r="2.65" fill="#fff" stroke="#333" stroke-width="0.9"/>
<circle cx="504.42" cy="315.20" r="2.65" fill="#fff" stroke="#333" stroke-width="0.9"/>
</svg>
</body></html>
